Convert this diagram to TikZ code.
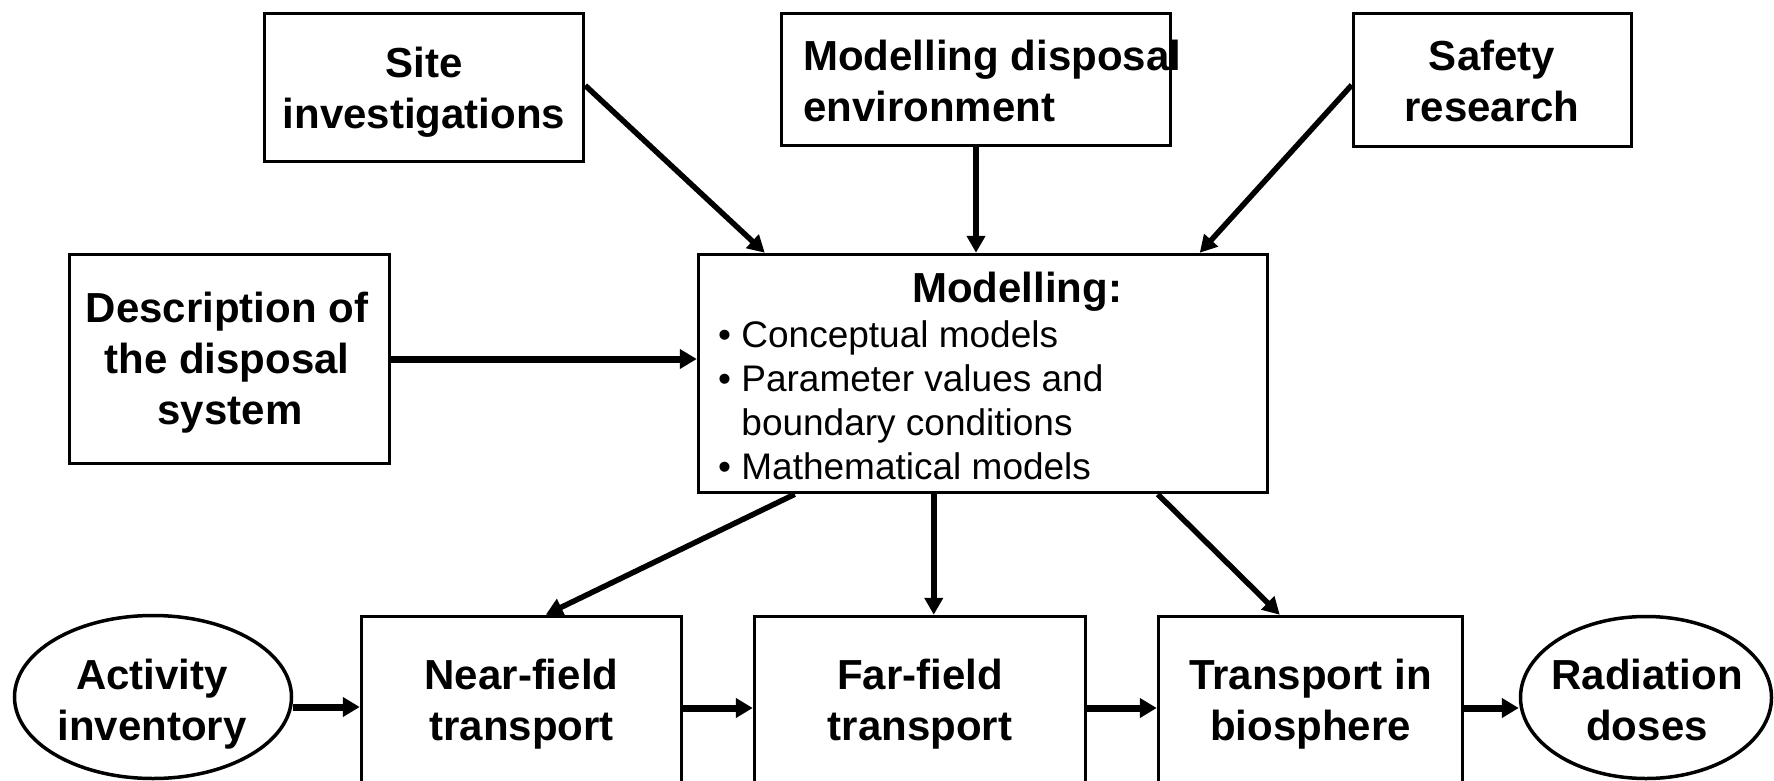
\documentclass[tikz,border=0pt]{standalone}
\usepackage{fontspec}
\setmainfont{Liberation Sans}
\usetikzlibrary{arrows.meta,shapes.geometric,calc}
\newcommand{\bigb}{\fontsize{42}{51}\selectfont\bfseries}
\newcommand{\regt}{\fontsize{37}{44}\selectfont}
\newcommand{\mlc}[1]{\begin{tabular}[t]{@{}c@{}}#1\end{tabular}}
\newcommand{\mll}[1]{\begin{tabular}[t]{@{}l@{}}#1\end{tabular}}
\begin{document}
\begin{tikzpicture}[x=1pt,y=-1pt,
  box/.style={draw=black,line width=3.5pt,rectangle,inner sep=0pt,fill=none},
  oval/.style={draw=black,line width=3.5pt,ellipse,inner sep=0pt},
  lbl/.style={inner sep=0pt,anchor=base,font=\bigb},
  darr/.style={line width=5.5pt,-{Triangle[length=17pt,width=18pt]}},
  harr/.style={line width=7pt,-{Triangle[length=17pt,width=19pt]}}]
\useasboundingbox (0,0) rectangle (1774,781);
\clip (0,0) rectangle (1774,781);
\fill[white] (0,0) rectangle (1774,781);
% boxes
\node[box,minimum width=319pt,minimum height=148pt] (site) at (424,87.5) {};
\node[box,minimum width=389pt,minimum height=132pt] (env) at (976,79.5) {};
\node[box,minimum width=278pt,minimum height=133pt] (safety) at (1492.5,80) {};
\node[box,minimum width=320pt,minimum height=209pt] (desc) at (229.5,359) {};
\node[box,minimum width=569pt,minimum height=238pt] (model) at (983,373.5) {};
\node[box,minimum width=320pt,minimum height=183pt] (near) at (521.5,708) {};
\node[box,minimum width=331pt,minimum height=183pt] (far) at (920,708) {};
\node[box,minimum width=304pt,minimum height=183pt] (trans) at (1310.5,708) {};
\node[oval,minimum width=277pt,minimum height=163pt] (act) at (153,697) {};
\node[oval,minimum width=251pt,minimum height=162pt] (rad) at (1646,697.5) {};
% texts
\node[lbl] (tsite) at (424,78) {\mlc{Site\\investigations}};
\node[lbl,anchor=base west] (tenv) at (803,71) {\mll{Modelling disposal\\environment}};
\node[lbl] (tsafety) at (1492,71) {\mlc{Safety\\research}};
\node[lbl] (tdesc) at (227,322) {\mlc{Description of\\the disposal\\\hspace*{6pt}system}};
\node[lbl] (tmodel) at (1017,302) {Modelling:};
\node[inner sep=0pt,anchor=base west,font=\regt] (tlist) at (718,347)
  {\mll{\textbullet\ Conceptual models\\\textbullet\ Parameter values and\\\phantom{\textbullet\ }boundary conditions\\\textbullet\ Mathematical models}};
\node[lbl] (tact) at (152,689) {\mlc{Activity\\inventory}};
\node[lbl] (tnear) at (521.5,689) {\mlc{Near-field\\transport}};
\node[lbl] (tfar) at (920,689) {\mlc{Far-field\\transport}};
\node[lbl] (ttrans) at (1310.5,689) {\mlc{Transport in\\biosphere}};
\node[lbl] (trad) at (1647,689) {\mlc{Radiation\\doses}};
% connectors
\draw[darr] ([yshift=2pt]site.east) -- ([xshift=68pt]model.north west);
\draw[darr] (env.south) -- (env.south |- model.north);
\draw[darr] ([yshift=-5pt]safety.west) -- ([xshift=503pt]model.north west);
\draw[harr] (desc.east) -- (desc.east -| model.west);
\draw[darr] ([xshift=98pt]model.south west) -- ([xshift=186pt]near.north west);
\draw[darr] ([xshift=237pt]model.south west) coordinate (mf) -- (mf |- far.north);
\draw[darr] ([xshift=461pt]model.south west) -- ([xshift=123pt]trans.north west);
\draw[harr] ([yshift=-10pt]act.east) coordinate (a1) -- (a1 -| near.west);
\draw[harr] (near.east) -- (far.west);
\draw[harr] (far.east) -- (trans.west);
\draw[harr] (trans.east) -- (trans.east -| rad.west);
\end{tikzpicture}
\end{document}
